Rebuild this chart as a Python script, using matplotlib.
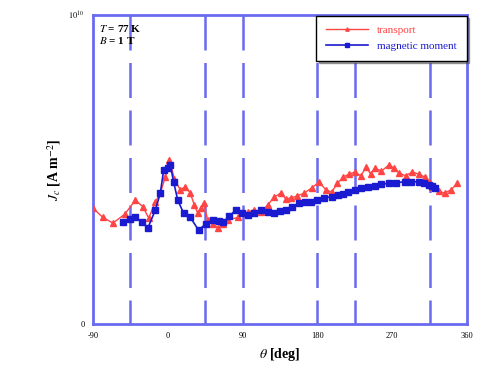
import numpy as np
import matplotlib
matplotlib.use('Agg')
import matplotlib.pyplot as plt

plt.rcParams['font.family'] = ['Liberation Serif', 'DejaVu Serif']
plt.rcParams['mathtext.fontset'] = 'stix'

# angle [deg] and Jc [1e9 A m^-2]
theta_tr = [-90, -78, -66, -52, -39, -30, -23, -15, -9, -3, 2, 8, 15, 21, 27, 32, 36, 40, 43,
            48, 54, 60, 66, 72, 84, 96, 104, 112, 120, 128, 136, 142, 148, 156, 164, 173, 182,
            190, 197, 204, 211, 218, 225, 232, 239, 244, 249, 257, 266, 272, 278, 286, 294,
            302, 309, 314, 318, 326, 333, 341, 348]
jc_tr = [3.75, 3.45, 3.27, 3.55, 4.01, 3.80, 3.43, 3.95, 4.24, 4.75, 5.31, 4.70, 4.34, 4.45,
         4.24, 3.85, 3.59, 3.75, 3.92, 3.37, 3.25, 3.11, 3.25, 3.37, 3.45, 3.62, 3.70, 3.62,
         3.85, 4.11, 4.24, 4.05, 4.08, 4.15, 4.24, 4.40, 4.60, 4.35, 4.27, 4.55, 4.76, 4.85,
         4.92, 4.80, 5.08, 4.85, 5.05, 4.95, 5.15, 5.05, 4.89, 4.80, 4.92, 4.85, 4.76, 4.60,
         4.43, 4.30, 4.24, 4.35, 4.56]

theta_mm = [-54, -46, -39, -31, -24, -15, -9, -5, 0, 3, 7, 12, 19, 27, 37, 46, 54, 61, 67,
            74, 82, 89, 96, 104, 112, 120, 128, 135, 142, 150, 158, 165, 172, 180, 188, 197,
            205, 211, 217, 225, 233, 241, 249, 257, 266, 275, 285, 293, 302, 308, 314, 318, 321]
jc_mm = [3.30, 3.40, 3.46, 3.30, 3.11, 3.69, 4.24, 4.98, 5.05, 5.15, 4.60, 4.01, 3.59, 3.46,
         3.04, 3.25, 3.37, 3.35, 3.30, 3.50, 3.69, 3.60, 3.53, 3.60, 3.69, 3.62, 3.59, 3.65,
         3.69, 3.80, 3.92, 3.95, 3.95, 4.02, 4.08, 4.12, 4.17, 4.22, 4.27, 4.33, 4.40, 4.44,
         4.47, 4.52, 4.56, 4.58, 4.60, 4.61, 4.60, 4.58, 4.50, 4.46, 4.40]

dash_angles = [-45, 45, 90, 180, 225, 315]
xticks = [-90, 0, 90, 180, 270, 360]

fig = plt.figure(figsize=(4.83, 3.8), dpi=100)
ax = fig.add_axes([0.1925, 0.147, 0.7745, 0.8135])

frame_col = '#6a6af0'
for a in dash_angles:
    ax.plot([a, a], [1, 0], transform=ax.get_xaxis_transform(), color=frame_col, lw=1.8,
            dashes=(14, 5), zorder=1)

ax.plot(theta_tr, np.array(jc_tr) * 1e9, color='#ff4444', lw=1.0, marker='^', ms=4,
        label='transport', zorder=3)
ax.plot(theta_mm, np.array(jc_mm) * 1e9, color='#1a1ad0', lw=1.2, marker='s', ms=5,
        label='magnetic moment', zorder=4)

ax.set_xlim(-90, 360)
ax.set_ylim(0, 1e10)
ax.set_xticks(xticks)
ax.set_xticklabels([str(t) for t in xticks], fontsize=6)
ax.set_yticks([0, 1e10])
ax.set_yticklabels(['0', '$10^{10}$'], fontsize=6)
ax.tick_params(length=0, pad=6)
for s in ax.spines.values():
    s.set_color(frame_col)
    s.set_linewidth(2)

ax.set_xlabel(r'$\theta$ [deg]', fontsize=10, fontweight='bold')
ax.set_ylabel(r'$J_c$ [A m$^{-2}$]', fontsize=10, fontweight='bold')

ax.text(0.015, 0.975, '$T$ = 77 K\n$B$ = 1 T', transform=ax.transAxes, fontsize=8,
        va='top', ha='left', fontweight='bold', linespacing=1.1)

leg = ax.legend(loc='upper right', fontsize=8, frameon=True, fancybox=False, shadow=True,
                borderaxespad=0.05, handlelength=3.8, markerscale=0.6, borderpad=0.9,
                framealpha=1)
leg.get_frame().set_edgecolor('black')
for txt, col in zip(leg.get_texts(), ['#ff4444', '#1a1ad0']):
    txt.set_color(col)

fig.savefig('out.png', dpi=100)
